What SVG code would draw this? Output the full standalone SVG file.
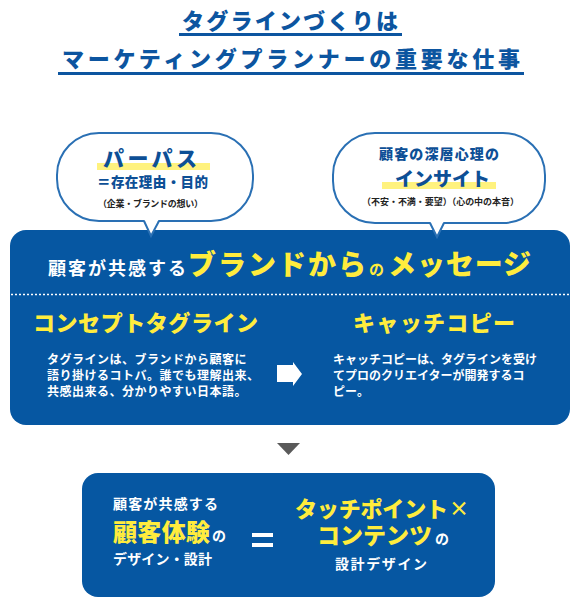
<svg xmlns="http://www.w3.org/2000/svg" width="580" height="605" viewBox="0 0 580 605">
<defs>
<style>
text{font-family:"Noto Sans CJK JP","Noto Sans CJK SC",sans-serif;font-weight:700;}
.title{fill:#0c55a0;font-size:22px;font-weight:900;}
.dk{fill:#0d4f96;font-weight:900;}
.wh{fill:#ffffff;}
.yl{fill:#ffec3d;}
.big{font-weight:900;}
.box{fill:#0657a2;}
.bub{fill:#ffffff;stroke:#2a70b4;stroke-width:2;}
.tail{fill:none;stroke:#2a70b4;stroke-width:2;stroke-linejoin:miter;}
.hl{fill:#fff27e;}
</style>
</defs>
<rect width="580" height="605" fill="#ffffff"/>

<g id="title">
<text class="title" x="182" y="29" textLength="216" lengthAdjust="spacing">タグラインづくりは</text>
<rect x="179" y="33" width="223" height="3" fill="#0c55a0"/>
<text class="title" x="62" y="67" font-size="23" textLength="458" lengthAdjust="spacing">マーケティングプランナーの重要な仕事</text>
<rect x="58" y="72" width="466" height="3" fill="#0c55a0"/>
</g>

<g id="main">
<rect class="box" x="10" y="230" width="560" height="195" rx="16"/>
<text class="wh" x="48" y="275" font-size="18" textLength="138" lengthAdjust="spacing">顧客が共感する</text>
<text class="yl big" x="188" y="275" font-size="28" textLength="178" lengthAdjust="spacing">ブランドから</text>
<text class="yl" x="369" y="275" font-size="15">の</text>
<text class="yl big" x="388" y="275" font-size="28" textLength="143" lengthAdjust="spacing">メッセージ</text>
<line x1="11" y1="294.5" x2="570" y2="294.5" stroke="#ffffff" stroke-width="1.5" stroke-dasharray="2 2"/>
</g>

<g id="concept">
<text class="yl big" x="33" y="331" font-size="22" textLength="225" lengthAdjust="spacing">コンセプトタグライン</text>
<text class="wh" font-size="12" letter-spacing="0.5" font-weight="400">
<tspan x="47" y="364">タグラインは、ブランドから顧客に</tspan>
<tspan x="47" y="380">語り掛けるコトバ。誰でも理解出来、</tspan>
<tspan x="47" y="396">共感出来る、分かりやすい日本語。</tspan>
</text>
</g>

<g id="catch">
<text class="yl big" x="353" y="331" font-size="22" textLength="162" lengthAdjust="spacing">キャッチコピー</text>
<text class="wh" font-size="12" font-weight="400">
<tspan x="333" y="364">キャッチコピーは、タグラインを受け</tspan>
<tspan x="333" y="380">てプロのクリエイターが開発するコ</tspan>
<tspan x="333" y="396">ピー。</tspan>
</text>
</g>

<g id="bubble-purpose">
<rect class="bub" x="57" y="133" width="196" height="88" rx="42" ry="42"/>
<polygon points="144,219 159,219 151,236" fill="#ffffff"/>
<polyline class="tail" points="144,221 151,236 159,221"/>
<rect class="hl" x="97" y="163" width="113" height="7"/>
<text class="dk" x="103" y="166" font-size="21" textLength="94" lengthAdjust="spacing">パーパス</text>
<text class="dk" x="97" y="187" font-size="13.5" textLength="111" lengthAdjust="spacing">＝存在理由・目的</text>
<text x="98" y="207" font-size="9" fill="#222" font-weight="400" textLength="105" lengthAdjust="spacing">（企業・ブランドの想い）</text>
</g>

<g id="bubble-insight">
<rect class="bub" x="333" y="133" width="212" height="90" rx="42" ry="42"/>
<polygon points="430,221 444,221 437,237" fill="#ffffff"/>
<polyline class="tail" points="430,223 437,237 444,223"/>
<text class="dk" x="379" y="159" font-size="14" textLength="120" lengthAdjust="spacing">顧客の深層心理の</text>
<rect class="hl" x="382" y="182" width="114" height="7"/>
<text class="dk" x="395" y="186" font-size="19" textLength="95" lengthAdjust="spacing">インサイト</text>
<text x="362" y="205" font-size="9" fill="#222" font-weight="400" textLength="157" lengthAdjust="spacing">（不安・不満・要望）（心の中の本音）</text>
</g>

<g id="connectors">
<polygon points="277,365 293,365 293,362 302,374 293,386 293,382 277,382" fill="#ffffff"/>
<polygon points="277,443 300,443 288.5,455" fill="#5a5a5a"/>
</g>

<g id="result">
<rect class="box" x="82" y="473" width="413" height="124" rx="16"/>
<text class="wh" x="113" y="509" font-size="14" textLength="105" lengthAdjust="spacing">顧客が共感する</text>
<text class="yl big" x="113" y="541" font-size="24" textLength="97" lengthAdjust="spacing">顧客体験</text>
<text class="wh" x="212" y="541" font-size="14">の</text>
<text class="wh" x="113" y="564" font-size="14" textLength="99" lengthAdjust="spacing">デザイン・設計</text>
<rect x="252" y="533" width="21" height="4" fill="#ffffff"/>
<rect x="252" y="543" width="21" height="4" fill="#ffffff"/>
<text class="yl big" x="295" y="517" font-size="22" textLength="153" lengthAdjust="spacing">タッチポイント</text>
<text class="yl" x="449" y="516" font-size="20" font-weight="400">×</text>
<text class="yl big" x="317" y="544" font-size="23" textLength="115" lengthAdjust="spacing">コンテンツ</text>
<text class="wh" x="435" y="544" font-size="14">の</text>
<text class="wh" x="335" y="569" font-size="14" textLength="92" lengthAdjust="spacing">設計デザイン</text>
</g>
</svg>
